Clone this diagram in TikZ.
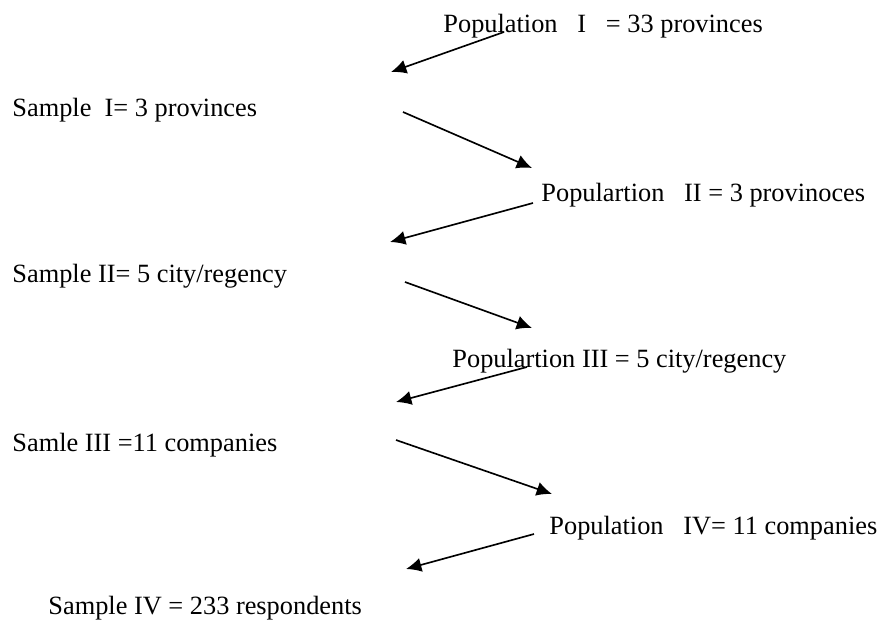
\documentclass[tikz,border=0pt]{standalone}
\usepackage{fontspec}
\setmainfont{Liberation Serif}
\usetikzlibrary{arrows.meta,positioning}

\begin{document}
\begin{tikzpicture}[x=0.016cm, y=-0.016cm]
      \tikzstyle{txt} = [anchor=west, inner sep=0pt,
                         font=\fontsize{12}{14}\selectfont]
      \tikzstyle{arrow} = [draw, -{Latex[length=7pt,width=6.5pt]},
                           line width=0.75pt]
      \useasboundingbox (0,0) rectangle (887,625);
      % populations on the right, samples on the left
      \node[txt] (popI) at (443,26) {Population\ \ \ I\ \ \ = 33 provinces};
      \node[txt] (samI) at (12,110) {Sample\ \ I= 3 provinces};
      \node[txt] (popII) at (541,195) {Populartion\ \ \ II = 3 provinoces};
      \node[txt] (samII) at (12,276) {Sample II= 5 city/regency};
      \node[txt] (popIII) at (452,361) {Populartion III = 5 city/regency};
      \node[txt] (samIII) at (12,445) {Samle III =11 companies};
      \node[txt] (popIV) at (549,528) {Population\ \ \ IV= 11 companies};
      \node[txt] (samIV) at (48,608) {Sample IV = 233 respondents};
      % arrow ends
      \coordinate (popI-out) at (504,32);
      \coordinate (samI-in) at (391,72);
      \coordinate (samI-out) at (403,112);
      \coordinate (popII-in) at (532,168);
      \coordinate (popII-out) at (533,203);
      \coordinate (samII-in) at (390,242);
      \coordinate (samII-out) at (405,282);
      \coordinate (popIII-in) at (532,328);
      \coordinate (popIII-out) at (527,367);
      \coordinate (samIII-in) at (396,402);
      \coordinate (samIII-out) at (396,440);
      \coordinate (popIV-in) at (552,494);
      \coordinate (popIV-out) at (534,534);
      \coordinate (samIV-in) at (406,569);
      \path[arrow] (popI-out) -- (samI-in);
      \path[arrow] (samI-out) -- (popII-in);
      \path[arrow] (popII-out) -- (samII-in);
      \path[arrow] (samII-out) -- (popIII-in);
      \path[arrow] (popIII-out) -- (samIII-in);
      \path[arrow] (samIII-out) -- (popIV-in);
      \path[arrow] (popIV-out) -- (samIV-in);
    \end{tikzpicture}
\end{document}
